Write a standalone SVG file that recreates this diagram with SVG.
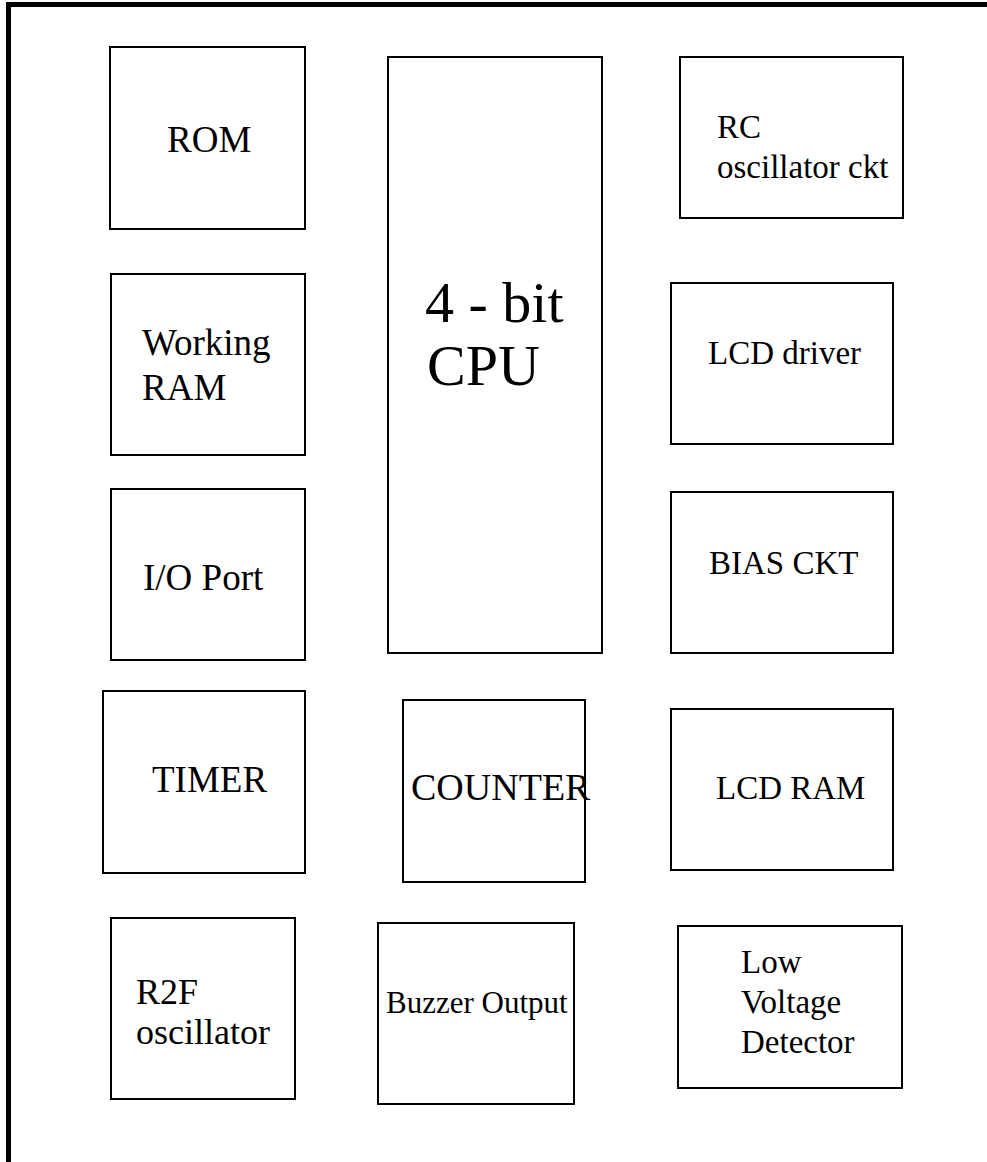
<svg xmlns="http://www.w3.org/2000/svg" width="987" height="1162" viewBox="0 0 987 1162">
<style>
.frame{stroke:#000;stroke-width:5;fill:none}
.box{fill:#fff;stroke:#000;stroke-width:2}
text{font-family:"Liberation Serif","Times New Roman",serif;fill:#000}
.l{font-size:37px}
.r{font-size:33px}
</style>
<rect width="987" height="1162" fill="#fff"/>
<g id="frame">
<line class="frame" x1="6" y1="4.5" x2="987" y2="4.5"/>
<line class="frame" x1="8.5" y1="2" x2="8.5" y2="1162"/>
</g>
<g id="connectors"></g>
<g id="rom"><rect class="box" x="110" y="47" width="195" height="182"/><text class="l" x="167" y="152">ROM</text></g>
<g id="working-ram"><rect class="box" x="111" y="274" width="194" height="181"/><text class="l" x="142" y="355">Working</text><text class="l" x="142" y="400">RAM</text></g>
<g id="io-port"><rect class="box" x="111" y="489" width="194" height="171"/><text class="l" x="143" y="590">I/O Port</text></g>
<g id="timer"><rect class="box" x="103" y="691" width="202" height="182"/><text class="l" x="152" y="792">TIMER</text></g>
<g id="r2f"><rect class="box" x="111" y="918" width="184" height="181"/><text style="font-size:36px" x="136" y="1004">R2F</text><text style="font-size:36px" x="136" y="1044">oscillator</text></g>
<g id="cpu"><rect class="box" x="388" y="57" width="214" height="596"/><text style="font-size:58px" x="425" y="322">4 - bit</text><text style="font-size:58px" x="427" y="385">CPU</text></g>
<g id="counter"><rect class="box" x="403" y="700" width="182" height="182"/><text style="font-size:38px" x="411" y="800">COUNTER</text></g>
<g id="buzzer"><rect class="box" x="378" y="923" width="196" height="181"/><text style="font-size:31px" x="386" y="1013">Buzzer Output</text></g>
<g id="rc-osc"><rect class="box" x="680" y="57" width="223" height="161"/><text class="r" x="717" y="138">RC</text><text class="r" x="717" y="178">oscillator ckt</text></g>
<g id="lcd-driver"><rect class="box" x="671" y="283" width="222" height="161"/><text class="r" x="708" y="364">LCD driver</text></g>
<g id="bias-ckt"><rect class="box" x="671" y="492" width="222" height="161"/><text class="r" x="709" y="574">BIAS CKT</text></g>
<g id="lcd-ram"><rect class="box" x="671" y="709" width="222" height="161"/><text class="r" x="716" y="799">LCD RAM</text></g>
<g id="lvd"><rect class="box" x="678" y="926" width="224" height="162"/><text class="r" x="741" y="973">Low</text><text class="r" x="741" y="1013">Voltage</text><text class="r" x="741" y="1053">Detector</text></g>
</svg>
